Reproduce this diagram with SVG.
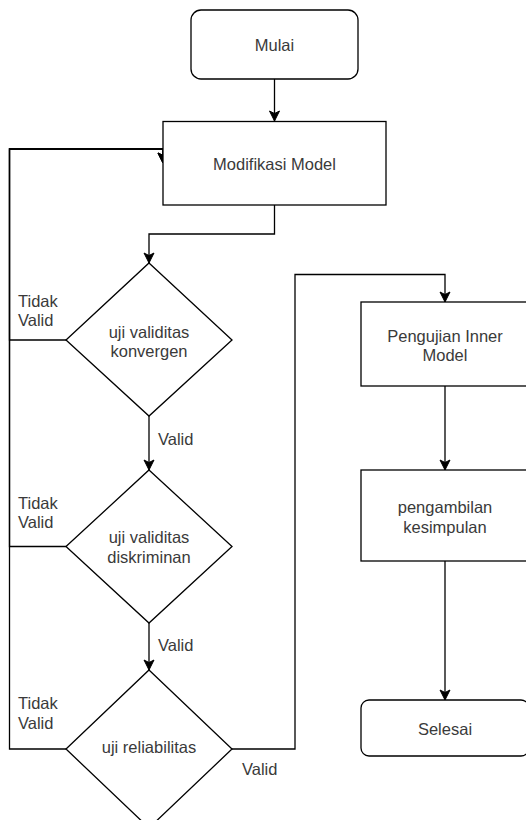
<svg xmlns="http://www.w3.org/2000/svg" width="526" height="820" viewBox="0 0 526 820">
<style>
.shape{fill:#fff;stroke:#000;stroke-width:1.3}
.edge{fill:none;stroke:#000;stroke-width:1.3}
text{font-family:"Liberation Sans",Arial,sans-serif;font-size:16.5px;fill:#3a3a3a}
.c{text-anchor:middle}
</style>
<defs>
<marker id="arr" markerUnits="userSpaceOnUse" markerWidth="12" markerHeight="12" viewBox="0 0 12 12" refX="11" refY="6" orient="auto">
<path d="M1,1 L11,6 L1,11 L3.5,6 z" fill="#000" stroke="#000" stroke-width="1"/>
</marker>
</defs>
<g id="connectors">
<path class="edge" d="M274.5 79 V121" marker-end="url(#arr)"/>
<path class="edge" d="M274.5 205 V234 H149 V263" marker-end="url(#arr)"/>
<path class="edge" d="M66 340 H9.5 V149 H163 V163" marker-end="url(#arr)"/>
<path class="edge" d="M66 546.5 H9.5 V149 H163 V163" marker-end="url(#arr)"/>
<path class="edge" d="M66 749 H9.5 V149 H163 V163" marker-end="url(#arr)"/>
<path class="edge" d="M149 416 V470" marker-end="url(#arr)"/>
<path class="edge" d="M149 623 V670" marker-end="url(#arr)"/>
<path class="edge" d="M232 749 H295 V274.5 H445 V302" marker-end="url(#arr)"/>
<path class="edge" d="M445 386 V470" marker-end="url(#arr)"/>
<path class="edge" d="M445 561 V700" marker-end="url(#arr)"/>
<text x="18" y="307">Tidak</text>
<text x="18" y="326">Valid</text>
<text x="18" y="509">Tidak</text>
<text x="18" y="528">Valid</text>
<text x="18" y="709">Tidak</text>
<text x="18" y="729">Valid</text>
<text x="158" y="445">Valid</text>
<text x="158" y="651">Valid</text>
<text x="242" y="775">Valid</text>
</g>
<g id="mulai">
<rect class="shape" x="191" y="10" width="167" height="69" rx="10"/>
<text class="c" x="274.5" y="51">Mulai</text>
</g>
<g id="modifikasi">
<rect class="shape" x="163" y="121.5" width="223" height="83.5"/>
<text class="c" x="274.5" y="170">Modifikasi Model</text>
</g>
<g id="konvergen">
<polygon class="shape" points="149,263 232,340 149,416 66,340"/>
<text class="c" x="149" y="338">uji validitas</text>
<text class="c" x="149" y="357">konvergen</text>
</g>
<g id="diskriminan">
<polygon class="shape" points="149,470 232,546.5 149,623 66,546.5"/>
<text class="c" x="149" y="543">uji validitas</text>
<text class="c" x="149" y="563">diskriminan</text>
</g>
<g id="reliabilitas">
<polygon class="shape" points="149,670 232,749 149,828 66,749"/>
<text class="c" x="149" y="753">uji reliabilitas</text>
</g>
<g id="inner">
<rect class="shape" x="361" y="302" width="168" height="84"/>
<text class="c" x="445" y="342">Pengujian Inner</text>
<text class="c" x="445" y="361">Model</text>
</g>
<g id="kesimpulan">
<rect class="shape" x="361" y="470" width="168" height="91"/>
<text class="c" x="445" y="513">pengambilan</text>
<text class="c" x="445" y="533">kesimpulan</text>
</g>
<g id="selesai">
<rect class="shape" x="361" y="700" width="168" height="56" rx="8"/>
<text class="c" x="445" y="735">Selesai</text>
</g>
</svg>
